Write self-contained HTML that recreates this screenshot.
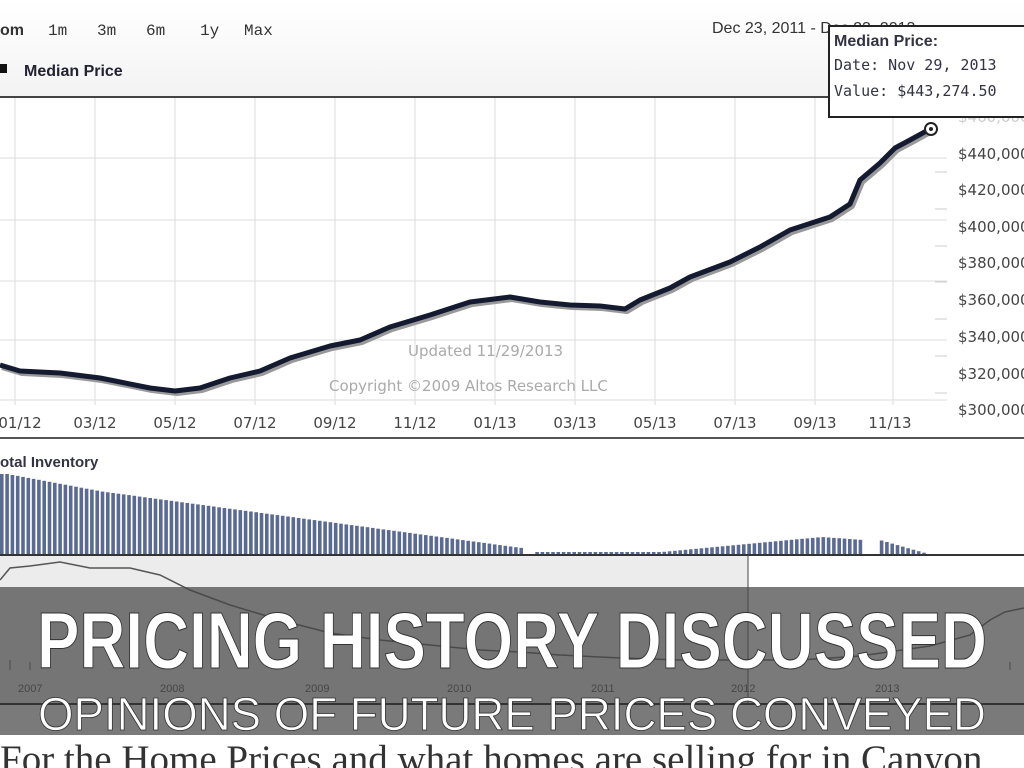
<!DOCTYPE html>
<html><head><meta charset="utf-8"><style>
html,body{margin:0;padding:0;width:1024px;height:768px;overflow:hidden;background:#fff;font-family:"Liberation Sans",sans-serif}
.abs{position:absolute}
</style></head><body>
<svg class="abs" style="left:0;top:0" width="1024" height="768" xmlns="http://www.w3.org/2000/svg">
<defs><linearGradient id="hdr" x1="0" y1="0" x2="0" y2="1"><stop offset="0" stop-color="#fff"/><stop offset="1" stop-color="#f3f3f3"/></linearGradient></defs>
<rect x="0" y="0" width="1024" height="97" fill="url(#hdr)"/>
<g font-family="Liberation Mono,monospace" font-size="16" fill="#333">
<text x="0" y="35" font-weight="bold" font-family="Liberation Sans,sans-serif">om</text>
<text x="48" y="35">1m</text><text x="97" y="35">3m</text><text x="146" y="35">6m</text><text x="200" y="35">1y</text><text x="244" y="35">Max</text>
<text x="712" y="33" font-family="Liberation Sans,sans-serif">Dec 23, 2011 - Dec 23, 2013</text>
</g>
<rect x="0" y="64" width="7" height="9" fill="#111"/>
<text x="24" y="76" font-size="16" font-weight="bold" fill="#223">Median Price</text>
<line x1="0" y1="97" x2="1024" y2="97" stroke="#444" stroke-width="2"/>
<g stroke="#ddd" stroke-width="1">
<line x1="15" y1="98" x2="15" y2="405"/><line x1="95" y1="98" x2="95" y2="405"/><line x1="175" y1="98" x2="175" y2="405"/><line x1="255" y1="98" x2="255" y2="405"/><line x1="335" y1="98" x2="335" y2="405"/><line x1="415" y1="98" x2="415" y2="405"/><line x1="495" y1="98" x2="495" y2="405"/><line x1="575" y1="98" x2="575" y2="405"/><line x1="655" y1="98" x2="655" y2="405"/><line x1="735" y1="98" x2="735" y2="405"/><line x1="815" y1="98" x2="815" y2="405"/><line x1="893" y1="98" x2="893" y2="405"/>
<line x1="0" y1="158" x2="947" y2="158"/><line x1="0" y1="220" x2="947" y2="220"/><line x1="0" y1="281" x2="947" y2="281"/><line x1="0" y1="340" x2="947" y2="340"/><line x1="0" y1="400" x2="947" y2="400"/>
</g>
<g stroke="#ccc" stroke-width="1"><line x1="935" y1="172" x2="947" y2="172"/><line x1="935" y1="209" x2="947" y2="209"/><line x1="935" y1="246" x2="947" y2="246"/><line x1="935" y1="282" x2="947" y2="282"/><line x1="935" y1="319" x2="947" y2="319"/><line x1="935" y1="356" x2="947" y2="356"/><line x1="935" y1="393" x2="947" y2="393"/></g>
<g font-family="DejaVu Sans,sans-serif" font-size="15" fill="#444">
<text x="958" y="122" fill="#ccc">$460,000</text><text x="958" y="159">$440,000</text><text x="958" y="195">$420,000</text><text x="958" y="232">$400,000</text><text x="958" y="268">$380,000</text><text x="958" y="305">$360,000</text><text x="958" y="342">$340,000</text><text x="958" y="379">$320,000</text><text x="958" y="415">$300,000</text>
<g text-anchor="middle"><text x="20" y="428">01/12</text><text x="95" y="428">03/12</text><text x="175" y="428">05/12</text><text x="255" y="428">07/12</text><text x="335" y="428">09/12</text><text x="415" y="428">11/12</text><text x="495" y="428">01/13</text><text x="575" y="428">03/13</text><text x="655" y="428">05/13</text><text x="735" y="428">07/13</text><text x="815" y="428">09/13</text><text x="890" y="428">11/13</text></g>
<text x="408" y="356" fill="#aaa">Updated 11/29/2013</text>
<text x="329" y="391" fill="#aaa">Copyright ©2009 Altos Research LLC</text>
</g>
<polyline fill="none" stroke="#999" stroke-width="6" stroke-linejoin="round" transform="translate(2 2)" points="0,365 20,371 60,373 100,378 150,388 175,391 200,388 230,378 260,371 290,358 330,346 360,340 390,327 430,315 470,302 510,297 540,302 570,305 600,306 625,309 640,300 670,288 690,277 730,262 760,247 790,230 830,217 850,204 860,180 880,163 895,148 910,140 930,129"/>
<polyline fill="none" stroke="#141a30" stroke-width="5" stroke-linejoin="round" points="0,365 20,371 60,373 100,378 150,388 175,391 200,388 230,378 260,371 290,358 330,346 360,340 390,327 430,315 470,302 510,297 540,302 570,305 600,306 625,309 640,300 670,288 690,277 730,262 760,247 790,230 830,217 850,204 860,180 880,163 895,148 910,140 930,129"/>
<circle cx="931" cy="129" r="6" fill="#fff" stroke="#222" stroke-width="2"/><circle cx="931" cy="129" r="2" fill="#222"/>
<rect x="829" y="26" width="200" height="91" fill="#fff" stroke="#222" stroke-width="2"/>
<g font-family="DejaVu Sans Mono,monospace" font-size="15" fill="#334"><text x="834" y="46" font-weight="bold" font-family="Liberation Sans,sans-serif" font-size="16">Median Price:</text><text x="834" y="70">Date: Nov 29, 2013</text><text x="834" y="96">Value: $443,274.50</text></g>
<line x1="0" y1="438" x2="1024" y2="438" stroke="#555" stroke-width="2"/>
<text x="0" y="467" font-size="15" font-weight="bold" fill="#334">otal Inventory</text>
<g id="bars"></g>
<rect x="0" y="555" width="748" height="150" fill="#ececec"/>
<rect x="748" y="555" width="276" height="150" fill="#fff"/>
<line x1="0" y1="555" x2="1024" y2="555" stroke="#333" stroke-width="2"/>
<polyline fill="none" stroke="#555" stroke-width="1.5" points="0,580 10,568 30,566 60,562 90,568 130,568 160,575 190,590 230,605 280,620 330,633 380,640 430,645 480,650 520,652 560,655 620,658 680,660 750,660 800,660 860,656 930,646 970,635 990,620 1005,612 1024,608"/>
<line x1="748" y1="555" x2="748" y2="704" stroke="#444"/>
<g stroke="#555"><line x1="10" y1="660" x2="10" y2="670"/><line x1="30" y1="662" x2="30" y2="670"/><line x1="1010" y1="662" x2="1010" y2="670"/></g>
<g font-size="11" fill="#444"><text x="18" y="692">2007</text><text x="160" y="692">2008</text><text x="305" y="692">2009</text><text x="447" y="692">2010</text><text x="591" y="692">2011</text><text x="731" y="692">2012</text><text x="875" y="692">2013</text></g>
<rect x="0" y="587" width="1024" height="148" fill="rgba(70,70,70,0.72)"/>
<line x1="0" y1="704" x2="1024" y2="704" stroke="#333" stroke-width="2"/>
<text x="0" y="772" font-family="Liberation Serif,serif" font-size="39" fill="#333">For the Home Prices and what homes are selling for in Canyon</text>
<text x="512" y="668" text-anchor="middle" font-size="80" font-weight="bold" fill="#fff" stroke="#333" stroke-width="1" textLength="950" lengthAdjust="spacingAndGlyphs">PRICING HISTORY DISCUSSED</text>
<text x="512" y="730" text-anchor="middle" font-size="46" fill="#fff" stroke="#333" stroke-width="0.8" textLength="948" lengthAdjust="spacingAndGlyphs">OPINIONS OF FUTURE PRICES CONVEYED</text>
</svg>
<script>
(function(){var g=document.getElementById('bars'),s='';
function top(x){if(x<10)return 474;if(x<520)return 478+ (x/520)*70- (x<100?(100-x)*0.05:0);if(x<660)return 552;if(x<820)return 552-(x-660)/160*15;if(x<862)return 537+(x-820)/42*3;return 540+(x-878)/52*15;}
for(var x=0;x<930;x+=5.3){if(x>520&&x<532)continue;if(x>862&&x<878)continue;var t=top(x);s+='<rect x="'+x.toFixed(1)+'" y="'+t.toFixed(1)+'" width="3.6" height="'+(555-t).toFixed(1)+'" fill="#5b6a92"/>';}
g.innerHTML=s;})();
</script>
</body></html>
